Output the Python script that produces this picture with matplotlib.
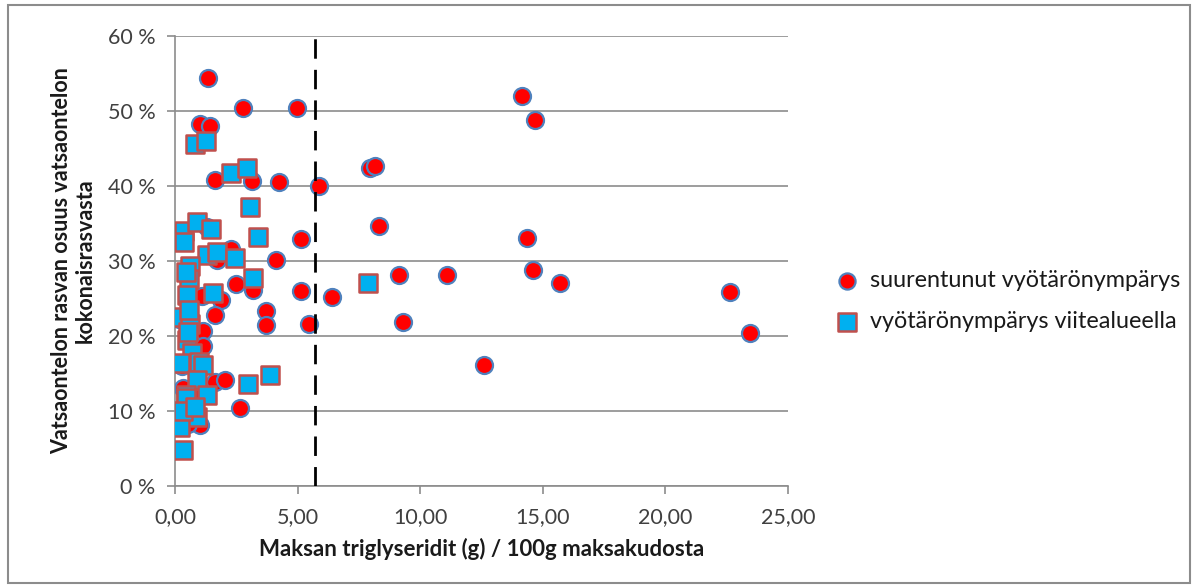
import matplotlib.pyplot as plt
import matplotlib.ticker as mticker
from matplotlib.patches import Rectangle

plt.rcParams['font.family'] = ['Lato', 'DejaVu Sans']

# suurentunut vyötärönympärys (red circles)
big_x = [1.35, 2.77, 4.98, 1.02, 1.43, 1.63, 3.14, 4.24, 5.87, 7.95, 8.16, 14.15,
         14.7, 8.3, 5.14, 14.35, 2.28, 1.71, 4.12, 2.49, 3.18, 5.14, 6.4, 1.1,
         1.88, 1.63, 3.71, 3.71, 5.46, 1.14, 1.14, 1.63, 2.04, 0.33, 9.13, 11.1,
         14.6, 15.7, 22.63, 9.3, 23.45, 12.6, 2.65, 1.02, 0.16, 0.53, 0.9, 1.3,
         0.3, 0.75, 1.05]
big_y = [54.4, 50.4, 50.4, 48.3, 48.0, 40.8, 40.7, 40.5, 40.0, 42.4, 42.7, 52.0,
         48.8, 34.7, 32.9, 33.1, 31.6, 30.1, 30.1, 26.9, 26.1, 26.0, 25.2, 25.3,
         24.8, 22.8, 23.3, 21.5, 21.6, 20.7, 18.7, 13.9, 14.1, 13.1, 28.1, 28.1,
         28.8, 27.1, 25.9, 21.9, 20.4, 16.1, 10.4, 8.1, 22.3, 8.3, 15.6, 34.6,
         16.0, 10.9, 12.0]

# vyötärönympärys viitealueella (blue squares)
ref_x = [0.82, 1.26, 2.28, 2.94, 3.06, 0.37, 0.9, 1.47, 0.37, 3.38, 1.3, 1.71,
         2.45, 0.61, 0.57, 3.18, 0.49, 1.55, 7.87, 0.2, 0.61, 0.49, 0.69, 0.2,
         0.98, 1.14, 0.9, 2.98, 3.87, 0.45, 1.3, 0.45, 0.9, 0.2, 0.33, 0.45,
         0.53, 0.33, 0.57, 0.8]
ref_y = [45.6, 46.0, 41.7, 42.4, 37.2, 34.0, 35.2, 34.3, 32.5, 33.2, 30.8, 31.2,
         30.4, 29.3, 27.6, 27.7, 25.5, 25.7, 27.1, 22.5, 21.6, 19.5, 17.7, 16.4,
         16.5, 16.1, 14.1, 13.6, 14.8, 12.1, 12.1, 11.7, 9.2, 7.9, 4.8, 28.6,
         20.5, 10.0, 23.5, 10.5]

cutoff = 5.71

fig = plt.figure(figsize=(11.98, 5.87), dpi=100)
ax = fig.add_axes([175/1198, 1-486/587, (788-175)/1198, (486-36)/587])

ax.scatter(big_x, big_y, s=150, marker='o', facecolor='#FF0000',
           edgecolor='#4F81BD', linewidth=1.6, zorder=3,
           label='suurentunut vyötärönympärys')
ax.scatter(ref_x, ref_y, s=170, marker='s', facecolor='#00B0F0',
           edgecolor='#C0504D', linewidth=1.8, zorder=4,
           label='vyötärönympärys viitealueella')

ax.axvline(cutoff, color='black', linestyle=(0, (7, 4)), linewidth=2, zorder=5)

ax.set_xlim(0, 25)
ax.set_ylim(0, 60)
ax.xaxis.set_major_locator(mticker.MultipleLocator(5))
ax.yaxis.set_major_locator(mticker.MultipleLocator(10))
ax.xaxis.set_major_formatter(mticker.FuncFormatter(lambda v, p: f'{v:.2f}'.replace('.', ',')))
ax.yaxis.set_major_formatter(mticker.FuncFormatter(lambda v, p: f'{int(v)} %'))

ax.grid(axis='y', color='#8c8c8c', linewidth=1.2)
ax.set_axisbelow(True)
for s in ['top', 'right']:
    ax.spines[s].set_visible(False)
for s in ['left', 'bottom']:
    ax.spines[s].set_color('#8c8c8c')
    ax.spines[s].set_linewidth(1.2)
ax.tick_params(axis='both', colors='#8c8c8c', length=6, width=1.2,
               labelcolor='#404040', labelsize=15.5)
ax.tick_params(axis='x', pad=9)
ax.tick_params(axis='y', pad=8)

ax.set_xlabel('Maksan triglyseridit (g) / 100g maksakudosta', fontsize=16,
              fontweight='bold', color='#1a1a1a', labelpad=8)
ax.set_ylabel('Vatsaontelon rasvan osuus vatsaontelon\nkokonaisrasvasta',
              fontsize=15.5, fontweight='bold', color='#1a1a1a', labelpad=9,
              linespacing=1.1)

fig.legend(loc='center left', bbox_to_anchor=(814/1198, 1-301/587), frameon=False,
           fontsize=16.8, handletextpad=0.0, labelspacing=0.85, markerscale=0.95,
           labelcolor='#1a1a1a', borderaxespad=0)

fig.patches.append(Rectangle((8/1198, 4/587), 1182/1198, 578/587,
                             transform=fig.transFigure, fill=False,
                             edgecolor='#8c8c8c', linewidth=1.5))

fig.savefig('out.png', dpi=100)
